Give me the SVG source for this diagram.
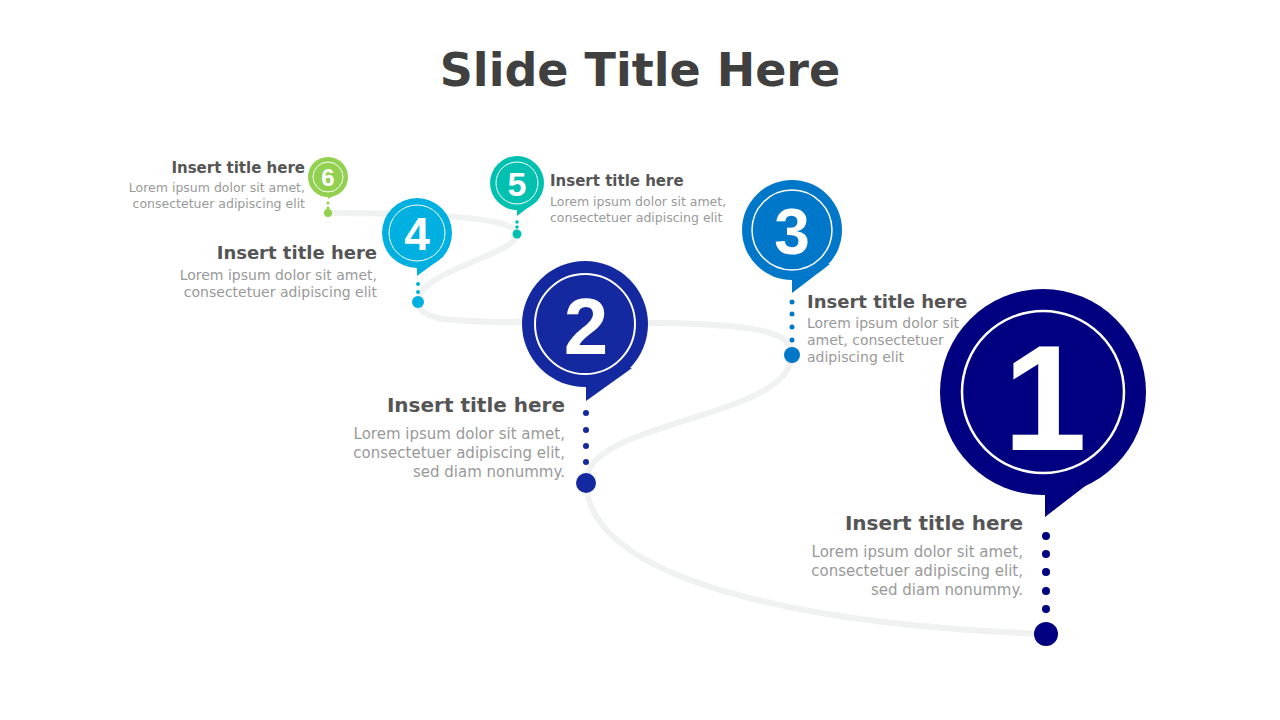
<svg xmlns="http://www.w3.org/2000/svg" width="1280" height="720" viewBox="0 0 1280 720">
<style>
text{font-family:"DejaVu Sans","Liberation Sans",sans-serif}
.t{font-weight:bold;fill:#555}
.b{fill:#999}
.n{font-family:"Liberation Sans",sans-serif;font-weight:bold;fill:#fff;text-anchor:middle}
.ring{fill:none;stroke:#fff}
</style>
<rect width="1280" height="720" fill="#fff"/>
<text x="640" y="86" text-anchor="middle" font-size="46" font-weight="bold" fill="#404040">Slide Title Here</text>
<g id="connectors">
<path d="M1046,634 C800,625 590,580 586,483 C583,420 790,420 792,355 C795,320 700,323 520,322 C450,322 418,320 418,302 C418,270 517,255 517,234 C517,215 400,213 328,213" fill="none" stroke="#F0F1F1" stroke-width="6"/>
</g>
<g id="node1" fill="#000080">
<circle cx="1043" cy="392" r="103"/><polygon points="1045,470 1045,517 1115,463"/>
<circle class="ring" cx="1043" cy="392" r="81" stroke-width="2.5"/>
<text class="n" x="1045" y="450" font-size="150">1</text>
<circle cx="1046" cy="536" r="4"/><circle cx="1046" cy="554" r="4"/><circle cx="1046" cy="572" r="4"/><circle cx="1046" cy="591" r="4"/><circle cx="1046" cy="609" r="4"/>
<circle cx="1046" cy="634" r="12"/>
<text class="t" x="1023" y="530" font-size="20" text-anchor="end">Insert title here</text>
<text class="b" font-size="15" text-anchor="end"><tspan x="1023" y="557">Lorem ipsum dolor sit amet,</tspan><tspan x="1023" y="576">consectetuer adipiscing elit,</tspan><tspan x="1023" y="595">sed diam nonummy.</tspan></text>
</g>
<g id="node2" fill="#1428A0">
<circle cx="585" cy="324" r="63"/><polygon points="586,370 586,401 632,368"/>
<circle class="ring" cx="585" cy="324" r="50" stroke-width="2"/>
<text class="n" x="586" y="354" font-size="80">2</text>
<circle cx="586" cy="413" r="3"/><circle cx="586" cy="430" r="3"/><circle cx="586" cy="446" r="3"/><circle cx="586" cy="462" r="3"/>
<circle cx="586" cy="483" r="10"/>
<text class="t" x="565" y="412" font-size="20" text-anchor="end">Insert title here</text>
<text class="b" font-size="15" text-anchor="end"><tspan x="565" y="439">Lorem ipsum dolor sit amet,</tspan><tspan x="565" y="458">consectetuer adipiscing elit,</tspan><tspan x="565" y="477">sed diam nonummy.</tspan></text>
</g>
<g id="node3" fill="#0077C8">
<circle cx="792" cy="230" r="50"/><polygon points="792,265 792,293 830,264"/>
<circle class="ring" cx="792" cy="230" r="40" stroke-width="1.5"/>
<text class="n" x="792" y="254" font-size="64">3</text>
<circle cx="792" cy="302" r="2.5"/><circle cx="792" cy="314" r="2.5"/><circle cx="792" cy="327" r="2.5"/><circle cx="792" cy="340" r="2.5"/>
<circle cx="792" cy="355" r="8"/>
<text class="t" x="807" y="308" font-size="18">Insert title here</text>
<text class="b" font-size="14"><tspan x="807" y="328">Lorem ipsum dolor sit</tspan><tspan x="807" y="345">amet, consectetuer</tspan><tspan x="807" y="362">adipiscing elit</tspan></text>
</g>
<g id="node4" fill="#00B0E0">
<circle cx="417" cy="233" r="35"/><polygon points="417,258 417,276 444,256"/>
<circle class="ring" cx="417" cy="233" r="28" stroke-width="1"/>
<text class="n" x="417" y="250" font-size="46">4</text>
<circle cx="418" cy="284" r="2"/><circle cx="418" cy="292" r="2"/>
<circle cx="418" cy="302" r="6"/>
<text class="t" x="377" y="259" font-size="18" text-anchor="end">Insert title here</text>
<text class="b" font-size="14" text-anchor="end"><tspan x="377" y="280">Lorem ipsum dolor sit amet,</tspan><tspan x="377" y="297">consectetuer adipiscing elit</tspan></text>
</g>
<g id="node5" fill="#00C0B0">
<circle cx="517" cy="183" r="27"/><polygon points="517,202 517,216 538,200"/>
<circle class="ring" cx="517" cy="183" r="21" stroke-width="1"/>
<text class="n" x="517" y="196" font-size="34">5</text>
<circle cx="517" cy="222" r="1.8"/><circle cx="517" cy="227" r="1.8"/>
<circle cx="517" cy="234" r="4.5"/>
<text class="t" x="550" y="186" font-size="15">Insert title here</text>
<text class="b" font-size="12.5"><tspan x="550" y="206">Lorem ipsum dolor sit amet,</tspan><tspan x="550" y="222">consectetuer adipiscing elit</tspan></text>
</g>
<g id="node6" fill="#92D050">
<circle cx="328" cy="177" r="20"/><polygon points="328,191 328,199 344,189"/>
<circle class="ring" cx="328" cy="177" r="15" stroke-width="1"/>
<text class="n" x="328" y="186" font-size="24">6</text>
<circle cx="328" cy="203" r="1.6"/><circle cx="328" cy="208" r="1.6"/>
<circle cx="328" cy="213" r="4"/>
<text class="t" x="305" y="173" font-size="15" text-anchor="end">Insert title here</text>
<text class="b" font-size="12.5" text-anchor="end"><tspan x="305" y="192">Lorem ipsum dolor sit amet,</tspan><tspan x="305" y="208">consectetuer adipiscing elit</tspan></text>
</g>
</svg>
